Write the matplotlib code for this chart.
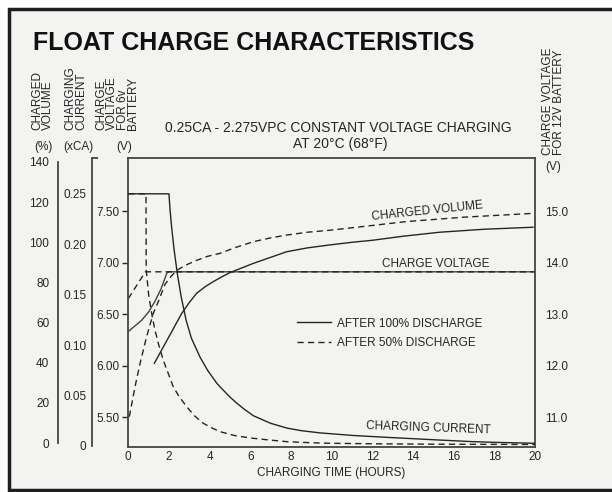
import matplotlib
matplotlib.use('Agg')
import matplotlib.pyplot as plt
from matplotlib.patches import Rectangle
from matplotlib.lines import Line2D

plt.rcParams['font.family'] = ['Liberation Sans', 'DejaVu Sans']

# ---- data ----
hour_ticks = list(range(0, 21, 2))
volt6_ticks = [5.50, 6.00, 6.50, 7.00, 7.50]
volt12_ticks = [11.0, 12.0, 13.0, 14.0, 15.0]
pct_ticks = [0, 20, 40, 60, 80, 100, 120, 140]
cur_ticks = [0, 0.05, 0.10, 0.15, 0.20, 0.25]

# charge voltage (6V battery)
volt100_t = [0, 0.3, 0.66, 1.0, 1.3, 1.6, 1.9, 2.0, 20]
volt100_v = [6.33, 6.38, 6.44, 6.52, 6.62, 6.74, 6.90, 6.91, 6.91]
volt50_t = [0, 0.42, 0.84, 20]
volt50_v = [6.65, 6.78, 6.91, 6.91]

# charging current (xCA)
cur100_t = [0, 2.0, 2.05, 2.13, 2.25, 2.41, 2.6, 2.84, 3.1, 3.53, 3.9, 4.36, 4.51, 5.0,
            5.33, 5.7, 6.15, 7.0, 7.79, 8.5, 9.43, 11.0, 12.5, 13.66, 15.0, 16.94, 18.0, 20]
cur100_i = [0.25, 0.25, 0.235, 0.217, 0.195, 0.171, 0.148, 0.125, 0.107, 0.088, 0.075,
            0.062, 0.0587, 0.0485, 0.0425, 0.0365, 0.030, 0.0225, 0.0178, 0.0152, 0.0130,
            0.0105, 0.0088, 0.0076, 0.0062, 0.0043, 0.0036, 0.0027]
cur50_t = [0, 0.87, 0.88, 1.0, 1.18, 1.31, 1.5, 1.72, 2.0, 2.21, 2.5, 2.87, 3.25, 3.69,
           4.1, 4.51, 5.3, 6.15, 7.0, 7.79, 9.0, 9.92, 12.0, 15.0, 20]
cur50_i = [0.25, 0.25, 0.175, 0.15, 0.128, 0.115, 0.1, 0.085, 0.07, 0.0587, 0.049, 0.039,
           0.03, 0.0225, 0.018, 0.0142, 0.01, 0.0076, 0.0058, 0.0043, 0.0032, 0.0027,
           0.0022, 0.0018, 0.0015]

# charged volume (%)
vol100_t = [1.28, 2.63, 3.0, 3.36, 3.8, 4.18, 4.6, 5.0, 5.6, 6.15, 7.0, 7.79, 8.8, 9.92,
            11.0, 12.0, 13.5, 15.3, 17.5, 19.9]
vol100_p = [39.7, 64.6, 70, 74.6, 78, 80.4, 82.8, 84.9, 87.3, 89.5, 92.5, 95.3, 97.2, 98.7,
            100, 101, 103, 105, 106.5, 107.5]
vol50_t = [0.05, 0.33, 0.58, 0.9, 1.23, 1.5, 1.8, 2.1, 2.38, 2.8, 3.36, 3.9, 4.51, 5.3,
           6.15, 7.0, 7.79, 8.8, 9.92, 11.5, 13.66, 16.5, 19.9]
vol50_p = [13.1, 28, 39.7, 53, 64.6, 71, 79, 83, 86, 88.5, 91, 93, 94.5, 97.5,
           100.3, 102.2, 103.6, 105, 106, 107.8, 110.3, 112.5, 114.4]

W, H = 612, 492
BG = '#f3f3f1'
INK = '#252525'
AX = '#444444'
DASH = (0, (4.5, 3))
FS = 8.5

fig = plt.figure(figsize=(W / 100, H / 100), dpi=100)
fig.patch.set_facecolor('white')
fig.patches.append(Rectangle((8.5 / W, 2 / H), 1.1, 1 - 11 / H, transform=fig.transFigure,
                             facecolor=BG, edgecolor='#1e1e1e', linewidth=2.5, zorder=-10))

rect = [128.3 / W, 1 - 447 / H, 406.7 / W, 289 / H]

# main axes: 6V voltage
ax = fig.add_axes(rect)
ax.patch.set_visible(False)
ax.set_xlim(0, 20)
ax.set_ylim(5.209, 8.015)
ax.set_xticks(hour_ticks)
ax.set_yticks(volt6_ticks)
ax.set_yticklabels([f'{v:.2f}' for v in volt6_ticks])
ax.tick_params(axis='x', length=0, pad=3, labelsize=FS, colors=INK)
ax.tick_params(axis='y', length=4, width=1, pad=2, labelsize=FS, colors=INK)
for s in ax.spines.values():
    s.set_color(AX)
    s.set_linewidth(1.3)
ax.plot(volt100_t, volt100_v, color='#4a3f3d', lw=1.0)
ax.plot(volt50_t, volt50_v, color=INK, lw=1.0, linestyle=DASH)
ax.set_xlabel('CHARGING TIME (HOURS)', fontsize=FS, color=INK, labelpad=3)

# right axis: 12V voltage
ax12 = ax.twinx()
ax12.set_ylim(2 * 5.209, 2 * 8.015)
ax12.set_yticks(volt12_ticks)
ax12.set_yticklabels([f'{v:.1f}' for v in volt12_ticks])
ax12.tick_params(axis='y', length=0, pad=7, labelsize=FS, colors=INK)
for s in ax12.spines.values():
    s.set_visible(False)

# charged volume axis
axp = fig.add_axes(rect, sharex=ax)
axp.patch.set_visible(False)
axp.set_ylim(-1.99, 141.99)
for k in ['top', 'right', 'bottom']:
    axp.spines[k].set_visible(False)
axp.spines['left'].set_position(('axes', (57.5 - 128.3) / 406.7))
axp.spines['left'].set_bounds(0, 140)
axp.spines['left'].set_color(AX)
axp.spines['left'].set_linewidth(1.3)
axp.set_yticks(pct_ticks)
axp.set_yticks([0, 140], minor=True)
axp.tick_params(axis='y', which='major', length=0, pad=6, labelsize=FS, colors=INK)
axp.tick_params(axis='y', which='minor', length=4, width=1.3, direction='in', color=AX)
axp.tick_params(axis='x', bottom=False, labelbottom=False)
axp.plot(vol100_t, vol100_p, color=INK, lw=1.0)
axp.plot(vol50_t, vol50_p, color=INK, lw=1.0, linestyle=DASH)

# charging current axis
axc = fig.add_axes(rect, sharex=ax)
axc.patch.set_visible(False)
axc.set_ylim(-0.001, 0.2855)
for k in ['top', 'right', 'bottom']:
    axc.spines[k].set_visible(False)
axc.spines['left'].set_position(('axes', (92 - 128.3) / 406.7))
axc.spines['left'].set_bounds(0, 0.2855)
axc.spines['left'].set_color(AX)
axc.spines['left'].set_linewidth(1.3)
axc.set_yticks(cur_ticks)
axc.set_yticklabels(['0'] + [f'{c:.2f}' for c in cur_ticks[1:]])
axc.set_yticks([0, 0.2855], minor=True)
axc.tick_params(axis='y', which='major', length=0, pad=4, labelsize=FS, colors=INK)
axc.tick_params(axis='y', which='minor', length=4, width=1.3, direction='in', color=AX)
axc.tick_params(axis='x', bottom=False, labelbottom=False)
axc.plot(cur100_t, cur100_i, color=INK, lw=1.0)
axc.plot(cur50_t, cur50_i, color=INK, lw=1.0, linestyle=DASH)

# curve labels
ax.text(0.735, 0.815, 'CHARGED VOLUME', transform=ax.transAxes, fontsize=FS,
        color=INK, rotation=6, ha='center', va='center')
ax.text(0.757, 0.633, 'CHARGE VOLTAGE', transform=ax.transAxes, fontsize=FS,
        color=INK, ha='center', va='center')
ax.text(0.738, 0.065, 'CHARGING CURRENT', transform=ax.transAxes, fontsize=FS,
        color=INK, rotation=-2, ha='center', va='center')

handles = [Line2D([], [], color=INK, lw=1.0),
           Line2D([], [], color=INK, lw=1.0, linestyle=DASH)]
leg = axc.legend(handles, ['AFTER 100% DISCHARGE', 'AFTER 50% DISCHARGE'],
                 loc='upper left', bbox_to_anchor=(0.415, 0.448), frameon=False,
                 fontsize=FS, handlelength=2.9, handletextpad=0.45,
                 labelspacing=0.62, borderpad=0, borderaxespad=0)
for t in leg.get_texts():
    t.set_color(INK)

# titles
fig.text(33 / W, 1 - 50 / H, 'FLOAT CHARGE CHARACTERISTICS', fontsize=18,
         fontweight='bold', color='#111111', ha='left', va='baseline')
fig.text(338 / W, 1 - 128 / H, '0.25CA - 2.275VPC CONSTANT VOLTAGE CHARGING',
         fontsize=10, color=INK, ha='center', va='center')
fig.text(340 / W, 1 - 144 / H, 'AT 20°C (68°F)', fontsize=10, color=INK,
         ha='center', va='center')

# rotated axis headers
heads = [(42.5, 'CHARGED\nVOLUME'), (76, 'CHARGING\nCURRENT'),
         (117.5, 'CHARGE\nVOLTAGE\nFOR 6v\nBATTERY')]
for x, s in heads:
    fig.text(x / W, 1 - 130 / H, s, rotation=90, fontsize=FS, color=INK,
             ha='center', va='bottom', multialignment='left', linespacing=0.85)
fig.text(553.5 / W, 1 - 155 / H, 'CHARGE VOLTAGE\nFOR 12V BATTERY', rotation=90,
         fontsize=FS, color=INK, ha='center', va='bottom', multialignment='left',
         linespacing=0.85)
for x, y, s in [(43, 147, '(%)'), (78.5, 147, '(xCA)'), (124, 147, '(V)'), (553, 167, '(V)')]:
    fig.text(x / W, 1 - y / H, s, fontsize=FS, color=INK, ha='center', va='center')

fig.savefig('out.png', dpi=100, facecolor=fig.get_facecolor())
